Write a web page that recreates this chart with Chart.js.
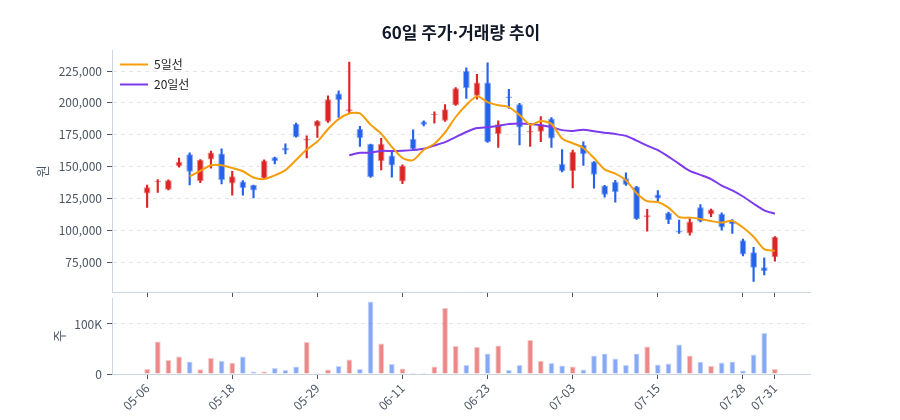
<!DOCTYPE html>
<html lang="ko">
<head>
<meta charset="utf-8">
<script src="https://cdn.jsdelivr.net/npm/chart.js@4.4.1/dist/chart.umd.min.js"></script>
<style>
  html, body { margin: 0; padding: 0; background: #fff; }
  #wrap { position: relative; width: 900px; height: 420px; }
  #priceBox { position: absolute; left: 0; top: 0; width: 900px; height: 300px; }
  #volBox { position: absolute; left: 0; top: 296px; width: 900px; height: 124px; }
</style>
</head>
<body>
<div id="wrap">
  <div id="priceBox"><canvas id="priceChart"></canvas></div>
  <div id="volBox"><canvas id="volChart"></canvas></div>
</div>
<script>
// trading days (MM-DD)
const dates = [
  '05-06','05-07','05-08','05-09','05-12','05-13','05-14','05-15','05-18','05-19',
  '05-20','05-21','05-22','05-25','05-26','05-27','05-29','05-30','06-01','06-02',
  '06-04','06-05','06-08','06-09','06-11','06-12','06-15','06-16','06-17','06-18',
  '06-19','06-22','06-23','06-24','06-25','06-26','06-29','06-30','07-01','07-02',
  '07-03','07-06','07-07','07-08','07-09','07-10','07-13','07-14','07-15','07-16',
  '07-17','07-20','07-21','07-22','07-23','07-24','07-28','07-29','07-30','07-31'
];
const tickIdx = [0, 8, 16, 24, 32, 40, 48, 56, 59];
const priceTicks = [75000, 100000, 125000, 150000, 175000, 200000, 225000];
const volTicks = [0, 100000];

const openP = [
  128900,137900,131800,150300,159700,138700,155500,160300,136600,138200,
  135500,141100,157400,164500,183700,170500,181500,185200,207300,193700,
  179400,167700,154400,158600,138300,171600,185400,190400,185900,198200,
  225000,205500,215900,175500,205000,199000,176800,177400,187800,152100,
  146600,166900,153900,135200,137800,140900,134400,110200,128000,113700,
  99500,97700,118100,112400,113000,107300,92200,82700,71000,78800
];
const closeP = [
  133700,138900,139200,153700,146000,155300,161000,139500,142400,133200,
  131100,154700,154200,162600,173200,171800,186000,202900,202300,195000,
  172400,141700,167700,150800,150800,163800,182800,191400,195000,211500,
  211500,215900,169000,183300,203600,180700,177900,183300,172100,146400,
  161700,159600,143500,127900,130000,135700,108600,111700,124900,108000,
  98200,106800,106800,116300,102100,104700,80900,70500,67900,94800
];
const highP = [
  135500,139700,139500,156600,160800,155500,162100,164000,146300,138900,
  135500,155300,157400,167900,184200,174200,186000,205500,209400,232000,
  181500,167700,172100,161200,151300,178900,185900,193000,198700,212000,
  227600,222400,231500,185900,210700,199700,183300,189300,188500,163300,
  163000,169500,154000,135200,139100,145100,134400,116400,131100,114300,
  108000,109100,120200,116600,113700,108300,93000,86500,78300,95000
];
const lowP = [
  117900,129700,131600,149500,135500,137400,148700,136300,127600,127600,
  125300,141000,152100,160000,173000,156800,172800,184600,188500,192400,
  165900,141500,147400,141700,136500,163300,182000,184100,185400,198000,
  203400,202900,169000,165100,195600,166900,165900,169500,165100,145800,
  133300,150800,133100,126000,122100,135200,108500,99200,122800,105200,
  97400,96100,106500,110600,100000,97400,79800,59900,65000,75700
];
const volume = [
  10000,65000,28000,35000,25000,9500,32000,26500,22500,35000,
  5000,5000,12000,8000,15000,64000,2000,9000,16000,29000,
  10000,145000,61000,20000,11000,2000,2000,15000,132000,56000,
  18000,54000,41000,57000,8000,18000,68000,26500,22000,17000,
  15000,9000,37000,41000,31000,18000,41000,55000,19000,21000,
  59000,37000,24500,16000,23000,25000,7000,39000,82000,10000
];
const ma5 = [
  null,null,null,null,142300,146600,151000,151100,148800,146300,
  141400,140200,143100,147200,155200,163300,169600,179300,187200,191600,
  191700,182900,175800,165500,156700,155000,163200,167900,176800,188900,
  198400,205100,200600,198200,196700,190500,182900,185800,183500,172100,
  168300,164600,156700,147800,144500,139300,129100,122800,122200,117800,
  110300,109900,108900,107200,106000,107300,102200,94900,85200,83800
];
const ma20 = [
  null,null,null,null,null,null,null,null,null,null,
  null,null,null,null,null,null,null,null,null,158800,
  160800,160900,162300,162200,162400,162900,163900,166500,169200,173100,
  177100,180200,180900,181900,183500,183900,183500,182500,181000,178600,
  178000,178900,177700,176600,175500,174100,170400,166400,162900,157800,
  152100,146600,143500,140200,135100,131300,126500,120800,115600,113000
];

const UP = '#dc2626', DOWN = '#2563eb';
const UP_SOFT = 'rgba(220,38,38,0.5)', DOWN_SOFT = 'rgba(37,99,235,0.5)';
const TEXT = '#4b5563', AXIS = '#cbd5e1', GRID = '#e5e7eb';

Chart.defaults.font.family = "'Noto Sans CJK KR', 'Noto Sans', sans-serif";
Chart.defaults.animation = false;

const isUp = dates.map((d, i) => closeP[i] >= openP[i]);
const pts = arr => arr.map((v, i) => ({ x: i, y: v }));

// vertical legend in 'chartArea' gets top = 0, move it into the plot
const legendInside = {
  id: 'legendInside',
  afterLayout(chart) {
    const lg = chart.legend;
    if (lg && lg.options.display) {
      const h = lg.bottom - lg.top;
      lg.top = chart.chartArea.top;
      lg.bottom = lg.top + h;
    }
  }
};

// y labels sit inside the plot, so no extra room above/below is needed
const yFit = w => s => { s.width = w; s.paddingTop = 0; s.paddingBottom = 0; };

function xAxis(showLabels, h) {
  return {
    type: 'linear', min: -3.3, max: 62.3, bounds: 'data', offset: false,
    grid: { drawOnChartArea: false, drawTicks: true, tickLength: 5, tickColor: TEXT, offset: false },
    border: { color: AXIS },
    afterBuildTicks: s => { s.ticks = tickIdx.map(v => ({ value: v })); },
    afterFit: s => { s.height = h; s.paddingLeft = 0; s.paddingRight = 0; },
    ticks: {
      display: showLabels, autoSkip: false, minRotation: 45, maxRotation: 45,
      color: TEXT, font: { size: 12 }, padding: 2,
      callback: v => dates[v]
    }
  };
}

new Chart(document.getElementById('priceChart'), {
  type: 'bar',
  data: {
    datasets: [
      {
        type: 'line', label: '5일선', data: pts(ma5), order: 1,
        borderColor: '#f59e0b', backgroundColor: '#f59e0b', borderWidth: 2,
        pointRadius: 0, tension: 0.25, fill: false
      },
      {
        type: 'line', label: '20일선', data: pts(ma20), order: 1,
        borderColor: '#7c3aed', backgroundColor: '#7c3aed', borderWidth: 2,
        pointRadius: 0, tension: 0.25, fill: false
      },
      {
        label: '', order: 2, grouped: false,
        data: dates.map((d, i) => ({ x: i, y: [openP[i], closeP[i]] })),
        backgroundColor: isUp.map(u => u ? UP : DOWN),
        borderColor: isUp.map(u => u ? UP_SOFT : DOWN_SOFT),
        borderWidth: 1, borderSkipped: false,
        barPercentage: 0.75, categoryPercentage: 0.85
      },
      {
        label: '', order: 3, grouped: false,
        data: dates.map((d, i) => ({ x: i, y: [lowP[i], highP[i]] })),
        backgroundColor: isUp.map(u => u ? UP : DOWN),
        borderWidth: 0, barThickness: 1.5
      }
    ]
  },
  options: {
    responsive: true, maintainAspectRatio: false,
    layout: { padding: { left: 30, right: 90, top: 0, bottom: 0 } },
    scales: {
      x: xAxis(false, 8),
      y: {
        min: 51500, max: 241200, bounds: 'data',
        afterBuildTicks: s => { s.ticks = priceTicks.map(v => ({ value: v })); },
        afterFit: yFit(82),
        title: { display: true, text: '원', color: TEXT, font: { size: 13 } },
        ticks: {
          color: TEXT, font: { size: 12 }, padding: 5,
          callback: v => v.toLocaleString('en-US')
        },
        grid: { color: GRID, tickColor: TEXT, tickLength: 5 },
        border: { color: AXIS, dash: [4, 4] }
      }
    },
    plugins: {
      title: {
        display: true, fullSize: false, text: '60일 주가·거래량 추이', color: '#111827',
        font: { size: 17, weight: 'bold' }, padding: { top: 22, bottom: 8 }
      },
      legend: {
        position: 'chartArea', align: 'start',
        labels: {
          filter: item => item.text !== '',
          usePointStyle: true, pointStyle: 'line', pointStyleWidth: 28,
          color: '#222', font: { size: 12 }, padding: 8
        }
      },
      tooltip: { enabled: false }
    }
  },
  plugins: [legendInside]
});

new Chart(document.getElementById('volChart'), {
  type: 'bar',
  data: {
    datasets: [{
      label: '거래량',
      data: pts(volume),
      backgroundColor: isUp.map(u => u ? 'rgba(220,38,38,0.55)' : 'rgba(37,99,235,0.55)'),
      borderColor: isUp.map(u => u ? 'rgba(220,38,38,0.25)' : 'rgba(37,99,235,0.25)'),
      borderWidth: 1, borderSkipped: 'bottom',
      barPercentage: 0.6, categoryPercentage: 0.9
    }]
  },
  options: {
    responsive: true, maintainAspectRatio: false,
    layout: { padding: { left: 47, right: 90, top: 2, bottom: 0 } },
    scales: {
      x: xAxis(true, 46),
      y: {
        min: 0, max: 152000, bounds: 'data',
        afterBuildTicks: s => { s.ticks = volTicks.map(v => ({ value: v })); },
        afterFit: yFit(65),
        title: { display: true, text: '주', color: TEXT, font: { size: 13 } },
        ticks: {
          color: TEXT, font: { size: 12 }, padding: 5,
          callback: v => v === 0 ? '0' : (v / 1000) + 'K'
        },
        grid: { color: GRID, tickColor: TEXT, tickLength: 5 },
        border: { color: AXIS, dash: [4, 4] }
      }
    },
    plugins: { legend: { display: false }, tooltip: { enabled: false } }
  }
});
</script>
</body>
</html>
